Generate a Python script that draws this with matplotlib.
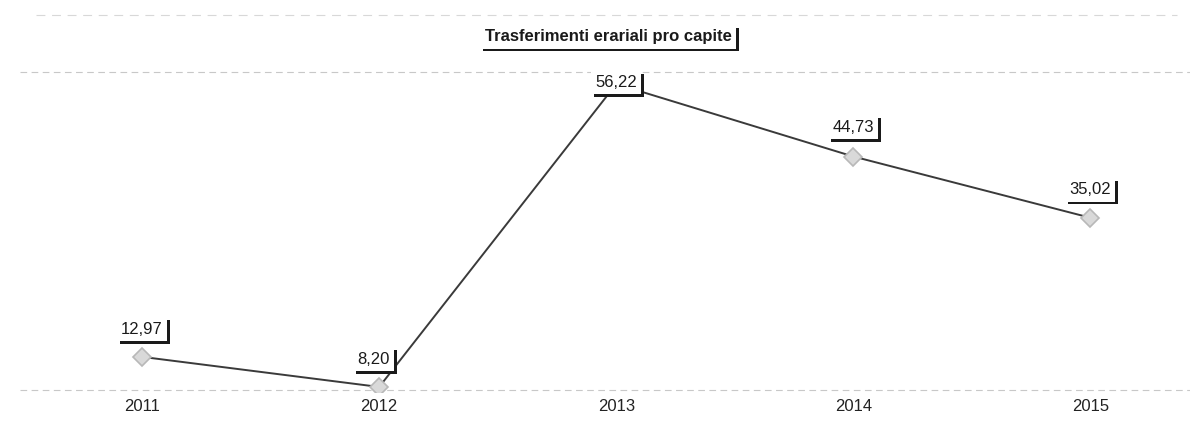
import matplotlib.pyplot as plt
import matplotlib.patheffects as pe
from matplotlib.lines import Line2D

plt.rcParams['font.family'] = ['Liberation Sans', 'DejaVu Sans']

# data
years = ['2011', '2012', '2013', '2014', '2015']
values = [12.97, 8.20, 56.22, 44.73, 35.02]
labels = ['12,97', '8,20', '56,22', '44,73', '35,02']
title = 'Trasferimenti erariali pro capite'

# label offsets in points (the 2013 label sits on top of its marker)
offsets = [(0, 20), (-4, 20), (0, 1), (0, 21), (0, 20)]

shadow = [pe.withSimplePatchShadow(offset=(2, -2), shadow_rgbFace='#1a1a1a', alpha=1.0)]
box = dict(boxstyle='square,pad=0.25', fc='white', ec='none')

fig = plt.figure(figsize=(12.01, 4.23), dpi=100)
ax = fig.add_axes([20 / 1201, 1 - 392 / 423, 1170 / 1201, 352 / 423])

x = list(range(len(years)))
ax.plot(x, values, color='#3a3a3a', lw=1.4, zorder=2)
ax.plot(x, values, ls='none', marker='D', ms=9, mfc='#d9d9d9', mec='#b8b8b8',
        mew=1.2, zorder=3)

ax.set_xlim(-0.515, 4.42)
ax.set_ylim(7.4, 63.2)

# faint dashed scan lines
ax.set_yticks([7.72, 58.1])
ax.yaxis.grid(True, ls=(0, (6, 4)), color='#c8c8c8', lw=0.8)
ax.tick_params(axis='y', left=False, labelleft=False)
ax.set_xticks(x)
ax.set_xticklabels(years, fontsize=12, color='#222222')
ax.tick_params(axis='x', length=0, pad=5)
for s in ax.spines.values():
    s.set_visible(False)
fig.add_artist(Line2D([0.03, 0.98], [1 - 15 / 423] * 2, transform=fig.transFigure,
                      ls=(0, (8, 6)), color='#d8d8d8', lw=0.8))

for xi, v, lab, off in zip(x, values, labels, offsets):
    t = ax.annotate(lab, (xi, v), xytext=off, textcoords='offset points',
                    ha='center', va='center', fontsize=12, color='#1a1a1a',
                    bbox=box, zorder=5, annotation_clip=False)
    t.get_bbox_patch().set_path_effects(shadow)

# title with the same shadowed box
tt = fig.text(0.5065, 1 - 37 / 423, title, ha='center', va='center',
              fontsize=12, fontweight='bold', color='#1a1a1a', bbox=box, zorder=5)
tt.get_bbox_patch().set_path_effects(shadow)

fig.savefig('out.png', dpi=100)
